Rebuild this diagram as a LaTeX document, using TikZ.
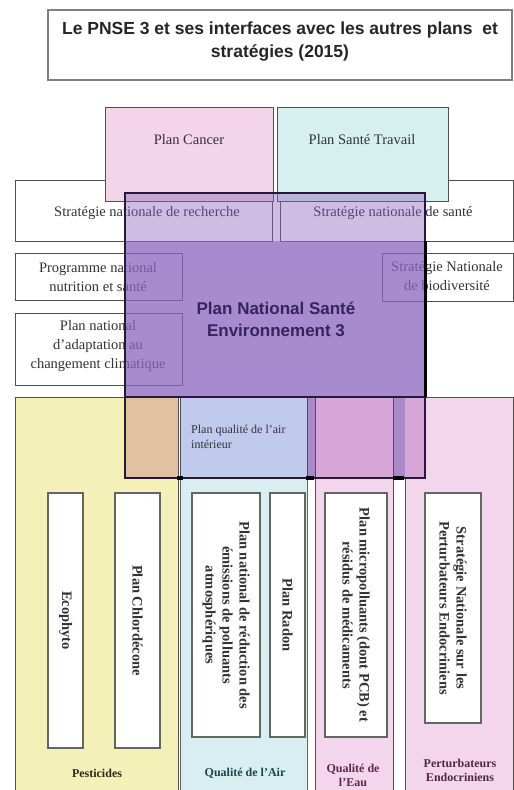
\documentclass[tikz,border=0pt]{standalone}
\usepackage{fontspec}
\setmainfont{Liberation Serif}
\newfontfamily\titlefont{Liberation Sans}
\definecolor{pinkA}{RGB}{244,212,232}
\definecolor{cyanA}{RGB}{214,240,240}
\definecolor{yellowA}{RGB}{244,241,184}
\definecolor{cyanB}{RGB}{216,238,240}
\definecolor{pinkB}{RGB}{243,214,236}
\definecolor{purpleA}{RGB}{140,100,190}
\definecolor{tanA}{RGB}{224,194,160}
\definecolor{lavB}{RGB}{192,202,236}
\definecolor{pinkP}{RGB}{214,166,214}
\definecolor{purpleGap}{RGB}{170,136,202}
\definecolor{edgegray}{RGB}{80,80,80}
\definecolor{innergray}{RGB}{95,105,95}
\definecolor{txtgray}{RGB}{50,50,55}
\definecolor{pnseedge}{RGB}{40,25,60}
\definecolor{pnsetext}{RGB}{55,35,95}
\definecolor{lblpest}{RGB}{45,40,25}
\definecolor{lblair}{RGB}{25,70,80}
\definecolor{lbleau}{RGB}{95,40,80}
\definecolor{lblpe}{RGB}{80,40,60}
\begin{document}
\begin{tikzpicture}[x=1pt,y=-1pt,
  box/.style={draw=edgegray, line width=1pt, anchor=north west, inner sep=0pt, outer sep=0pt},
  vbox/.style={box, draw=innergray, line width=1.4pt, fill=white},
  btext/.style={align=center, inner sep=0pt, font=\fontsize{14.5}{19}\selectfont, text=txtgray},
  vtext/.style={align=center, inner sep=0pt, rotate=-90, font=\bfseries\fontsize{14.5}{17}\selectfont, text=txtgray},
  ltext/.style={align=center, inner sep=0pt, font=\bfseries\fontsize{12}{14}\selectfont},
]
\useasboundingbox (0,0) rectangle (514,790);
\clip (0,0) rectangle (514,790);
\fill[white] (0,0) rectangle (514,790);

% lower columns
\node[box, fill=yellowA, minimum width=163, minimum height=403] (pest) at (15,397) {};
\node[box, fill=cyanB, draw=innergray, minimum width=127, minimum height=403] (air) at (180,397) {};
\node[box, fill=pinkB, minimum width=78, minimum height=403] (eau) at (315,397) {};
\node[box, fill=pinkB, minimum width=108, minimum height=403] (pe) at (405,397) {};

% overlap patches with PNSE
\fill[tanA] (125,397) rectangle (178,478);
\fill[purpleGap] (307,397) rectangle (315,478);
\fill[pinkP] (315,397) rectangle (393,478);
\fill[purpleGap] (393,397) rectangle (405,478);
\fill[pinkP] (405,397) rectangle (425,478);
\node[box, fill=lavB, minimum width=127, minimum height=81] (airint) at (180,397) {};
\draw[edgegray, line width=1pt] (315,397) rectangle (393,478);

% inner vertical boxes
\node[vbox, minimum width=35, minimum height=255] (eco) at (48,493) {};
\node[vbox, minimum width=45, minimum height=255] (chl) at (115,493) {};
\node[vbox, minimum width=68, minimum height=244] (pnr) at (192,493) {};
\node[vbox, minimum width=35, minimum height=244] (radon) at (270,493) {};
\node[vbox, minimum width=62, minimum height=244] (micro) at (325,493) {};
\node[vbox, minimum width=56, minimum height=230] (snpe) at (425,493) {};

\node[vtext] (ecot) at (eco.center) {Ecophyto};
\node[vtext] (chlt) at (chl.center) {Plan Chlordécone};
\node[vtext] (pnrt) at (pnr.center) {Plan national de réduction des\\émissions de polluants\\atmosphériques};
\node[vtext] (radont) at (radon.center) {Plan Radon};
\node[vtext] (microt) at (micro.center) {Plan micropolluants (dont PCB) et\\résidus de médicaments};
\node[vtext] (snpet) at (snpe.center) {Stratégie Nationale sur les\\Perturbateurs Endocriniens};

% title
\node[box, draw=gray, line width=1.3pt, fill=white, minimum width=464, minimum height=70] (title) at (48,10) {};
\node[align=center, inner sep=0pt, font=\titlefont\bfseries\fontsize{17.5}{23}\selectfont, text=black!85] (titlet) at (280,42) {Le PNSE 3 et ses interfaces avec les autres plans\ \ et\\stratégies (2015)};

% upper boxes
\node[box, fill=white, minimum width=257, minimum height=61] (strat1) at (15,180) {};
\node[box, fill=white, minimum width=233, minimum height=61] (strat2) at (280,180) {};
\node[box, fill=white, minimum width=167, minimum height=47] (pnns) at (15,253) {};
\node[box, fill=white, minimum width=131, minimum height=48] (biod) at (382,253) {};
\node[box, fill=white, minimum width=167, minimum height=72] (adapt) at (15,313) {};
\node[box, fill=pinkA, minimum width=168, minimum height=94] (cancer) at (105,107) {};
\node[box, fill=cyanA, minimum width=171, minimum height=94] (sante) at (277,107) {};

\node[btext] (cancert) at (189,140) {Plan Cancer};
\node[btext] (santet) at (362,140) {Plan Santé Travail};
\node[btext] (strat1t) at (147,213) {Stratégie nationale de recherche};
\node[btext] (strat2t) at (393,213) {Stratégie nationale de santé};
\node[btext] (pnnst) at (98,277) {Programme national\\nutrition et santé};
\node[btext] (biodt) at (447,276) {Stratégie Nationale\\de biodiversité};
\node[btext] (adaptt) at (98,346) {Plan national\\d'adaptation au\\changement climatique};

% PNSE
\fill[purpleA, fill opacity=0.42] (125,193) rectangle (425,241);
\fill[purpleA, fill opacity=0.75] (125,241) rectangle (425,397);
\node[box, draw=pnseedge, line width=1.2pt, minimum width=300, minimum height=285] (pnse) at (125,193) {};
\draw[pnseedge, line width=1.4pt] (125,397) -- (425,397);
\draw[black, line width=2.2pt] (425.5,241) -- (425.5,397);
\draw[pnseedge, line width=1.8pt] (125,241) -- (125,397);
\fill[black] (177,476) rectangle (183,480);
\fill[black] (306,476) rectangle (314,480);
\fill[black] (393,476) rectangle (404,480);
\node[align=center, inner sep=0pt, font=\titlefont\bfseries\fontsize{17}{22}\selectfont, text=pnsetext] (pnset) at (276,319) {Plan National Santé\\Environnement 3};

\node[align=left, anchor=west, inner sep=0pt, font=\fontsize{12}{15}\selectfont, text=txtgray] (airintt) at (191,437) {Plan qualité de l'air\\intérieur};

% bottom labels
\node[ltext, text=lblpest] (pestt) at (97,773) {Pesticides};
\node[ltext, text=lblair] (airt) at (245,773) {Qualité de l'Air};
\node[ltext, text=lbleau] (eaut) at (353,775) {Qualité de\\l'Eau};
\node[ltext, text=lblpe] (pet) at (460,770) {Perturbateurs\\Endocriniens};
\end{tikzpicture}
\end{document}
